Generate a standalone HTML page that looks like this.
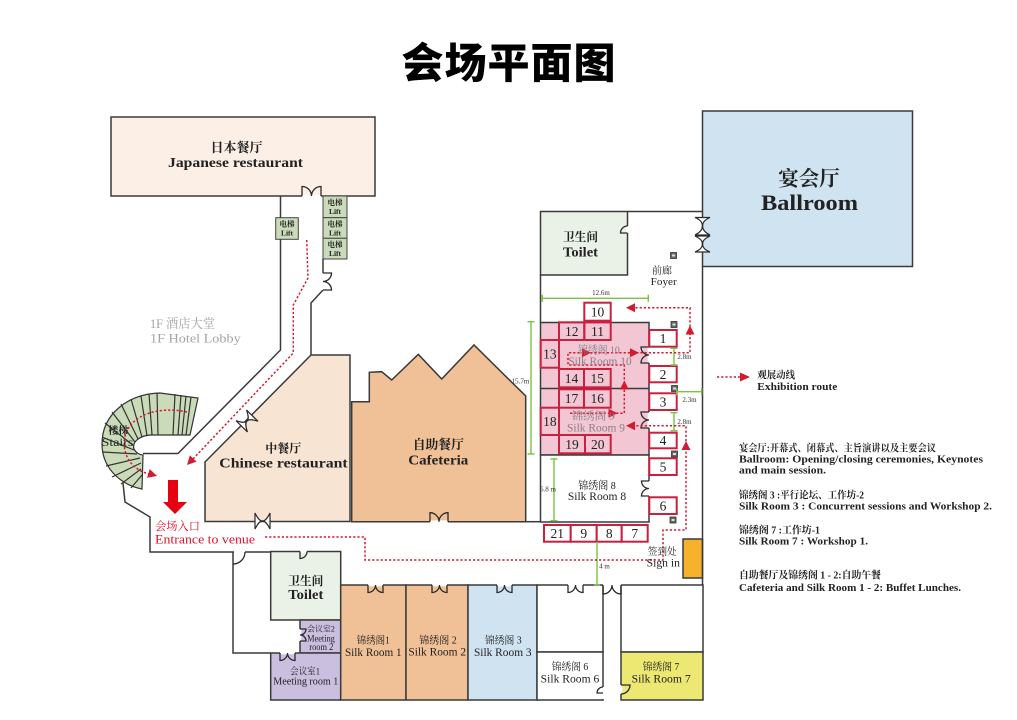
<!DOCTYPE html>
<html><head><meta charset="utf-8">
<style>
html,body{margin:0;padding:0;background:#fff;}
svg{display:block;}
</style></head><body>
<svg width="1017" height="720" viewBox="0 0 1017 720" xmlns="http://www.w3.org/2000/svg">
<rect width="1017" height="720" fill="#fff"/>
<text x="509" y="78" text-anchor="middle" font-family="'Noto Sans CJK SC','WenQuanYi Zen Hei',sans-serif" font-weight="900" font-size="42" letter-spacing="1">会场平面图</text>

<!-- rooms -->
<g stroke="#3a3a3a" stroke-width="1.5">
<rect x="111" y="117" width="264" height="79" fill="#fbefe6"/>
<rect x="702.5" y="111" width="210" height="155.5" fill="#cfe3f1"/>
<rect x="540.5" y="211.5" width="87" height="63.5" fill="#eaf2e7"/>
<rect x="540.5" y="322.5" width="108.5" height="132.5" fill="#f3c6d4"/>
<line x1="540.5" y1="388.5" x2="649" y2="388.5"/>
<rect x="540.5" y="455" width="108.5" height="67" fill="#fff"/>
<polygon points="351.7,401.7 369.3,401.7 369.3,372.3 381.7,371.7 391.7,380 418.3,354.3 441.7,379 474,345 525.7,396 525.7,521.7 351.7,521.7" fill="#f0c096"/>
<polygon points="311,355 350,355 350,521.5 205,521.5 205,462" fill="#f8e4d2"/>
<rect x="270.7" y="551.5" width="70" height="68.5" fill="#eaf2e7"/>
<rect x="300" y="620" width="40.7" height="33" fill="#cbbfe0"/>
<rect x="270.7" y="653" width="70" height="47" fill="#cbbfe0"/>
<rect x="340.7" y="585" width="65.3" height="115" fill="#f0c096"/>
<rect x="406" y="585" width="62" height="115" fill="#f0c096"/>
<rect x="468" y="585" width="69" height="115" fill="#cfe3f1"/>
<rect x="537" y="585" width="66" height="67" fill="#fff"/>
<rect x="537" y="652" width="66" height="48" fill="#fff"/>
<rect x="621" y="585" width="82" height="67" fill="#fff"/>
<rect x="621" y="652" width="82" height="48" fill="#ece872"/>
<rect x="683" y="539" width="19.5" height="39" fill="#f5b22a"/>
</g>

<!-- walls -->
<g fill="none" stroke="#3a3a3a" stroke-width="1.5">
<polyline points="280.5,196 280.5,350 178,453.5 143,453.5"/>
<line x1="323" y1="259" x2="323" y2="273"/>
<polyline points="323,290 311,303 311,355"/>
<polyline points="123,483 125,502 150,517 150,552 270.7,552"/>
<polyline points="233,552 233,653 270.7,653"/>
<line x1="540.5" y1="275" x2="540.5" y2="322.5"/>
<line x1="627.5" y1="211.5" x2="702.5" y2="211.5"/>
<line x1="702.5" y1="266.5" x2="702.5" y2="585"/>
<line x1="525.7" y1="521.7" x2="540.5" y2="521.7"/>
</g>

<!-- stairs -->
<g stroke="#333" stroke-width="1.2">
<path d="M142,489 C118,484 102,466 102,444 C102,414 128,394 160,393 L198,398 L190,435 L150,435 C138,436 132,443 134,449 C136,453 140,455 143,455 Z" fill="#c9dbb8"/>
<g fill="none">
<line x1="186" y1="435" x2="191" y2="397"/><line x1="182" y1="435" x2="186" y2="396"/>
<line x1="178" y1="435" x2="181" y2="395"/><line x1="173" y1="435" x2="175" y2="394"/>
<line x1="158" y1="435" x2="157" y2="393"/><line x1="152" y1="435" x2="149" y2="394"/>
<line x1="147" y1="436" x2="141" y2="396"/><line x1="142" y1="437" x2="131" y2="399"/>
<line x1="138" y1="439" x2="121" y2="404"/><line x1="135" y1="442" x2="112" y2="412"/>
<line x1="134" y1="446" x2="105" y2="423"/><line x1="134" y1="450" x2="102" y2="437"/>
<line x1="137" y1="454" x2="103" y2="452"/><line x1="140" y1="458" x2="106" y2="466"/>
<line x1="141" y1="463" x2="112" y2="477"/><line x1="141" y1="469" x2="121" y2="484"/>
<line x1="142" y1="475" x2="131" y2="488"/>
</g>
</g>

<!-- lifts -->
<g stroke="#444" stroke-width="1" fill="#c9dbb8">
<rect x="323" y="196" width="24" height="21.7"/>
<rect x="323" y="217.7" width="24" height="20.6"/>
<rect x="323" y="238.3" width="24" height="20.7"/>
<rect x="275.7" y="217.7" width="22.6" height="21.6"/>
</g>
<g font-family="'Liberation Serif','Noto Serif CJK SC',serif" font-size="7.5" fill="#222" text-anchor="middle" font-weight="bold">
<text x="335" y="205">电梯</text><text x="335" y="214">Lift</text>
<text x="335" y="226.5">电梯</text><text x="335" y="235.5">Lift</text>
<text x="335" y="247">电梯</text><text x="335" y="256">Lift</text>
<text x="287" y="226.5">电梯</text><text x="287" y="235.5">Lift</text>
</g>

<!-- door gaps -->
<g stroke="#fff" stroke-width="2.6">
<line x1="302" y1="196" x2="321" y2="196"/>
<line x1="323" y1="273" x2="323" y2="290"/>
<line x1="430" y1="521.7" x2="448" y2="521.7"/>
<line x1="649" y1="347" x2="649" y2="363"/>
<line x1="649" y1="412" x2="649" y2="428"/>
<line x1="649" y1="481" x2="649" y2="496"/>
<line x1="368" y1="585" x2="383" y2="585"/>
<line x1="432" y1="585" x2="447" y2="585"/>
<line x1="497" y1="585" x2="512" y2="585"/>
<line x1="568" y1="585" x2="583" y2="585"/>
<line x1="603" y1="585" x2="621" y2="585"/>
<line x1="280" y1="653" x2="295" y2="653"/>
<line x1="300" y1="629" x2="300" y2="641"/>
<line x1="234" y1="552" x2="245" y2="552"/>
<line x1="300" y1="551.5" x2="307" y2="551.5"/>
<line x1="627.5" y1="226" x2="627.5" y2="233"/>
<line x1="603" y1="687" x2="603" y2="699"/>
<line x1="621" y1="685" x2="621" y2="694"/>
</g>

<!-- doors -->
<g fill="none" stroke="#2a2a2a" stroke-width="1.3">
<path d="M302,196 V186.5 A9.5,9.5 0 0 1 311.5,196 M321,196 V186.5 A9.5,9.5 0 0 0 311.5,196"/>
<path d="M323,273 H331.5 A8.5,8.5 0 0 1 323,281.5 M323,290 H331.5 A8.5,8.5 0 0 0 323,281.5"/>
<path d="M430,521.7 V512.7 A9,9 0 0 1 439,521.7 M448,521.7 V512.7 A9,9 0 0 0 439,521.7"/>
<path d="M649,347 H641 A8,8 0 0 0 649,355 M649,363 H641 A8,8 0 0 1 649,355"/>
<path d="M649,412 H641 A8,8 0 0 0 649,420 M649,428 H641 A8,8 0 0 1 649,420"/>
<path d="M649,481 H641.5 A7.5,7.5 0 0 0 649,488.5 M649,496 H641.5 A7.5,7.5 0 0 1 649,488.5"/>
<path d="M368,585 V592.5 A7.5,7.5 0 0 0 375.5,585 M383,585 V592.5 A7.5,7.5 0 0 1 375.5,585"/>
<path d="M432,585 V592.5 A7.5,7.5 0 0 0 439.5,585 M447,585 V592.5 A7.5,7.5 0 0 1 439.5,585"/>
<path d="M497,585 V592.5 A7.5,7.5 0 0 0 504.5,585 M512,585 V592.5 A7.5,7.5 0 0 1 504.5,585"/>
<path d="M568,585 V592.5 A7.5,7.5 0 0 0 575.5,585 M583,585 V592.5 A7.5,7.5 0 0 1 575.5,585"/>
<path d="M603,585 V594 A9,9 0 0 0 612,585 M621,585 V594 A9,9 0 0 1 612,585"/>
<path d="M280,653 V660.5 A7.5,7.5 0 0 0 287.5,653 M295,653 V660.5 A7.5,7.5 0 0 1 287.5,653"/>
<path d="M300,629 H306 A6,6 0 0 1 300,635 M300,641 H306 A6,6 0 0 0 300,635"/>
<path d="M233,564 A12,12 0 0 0 245,552"/>
<path d="M300,551.5 V558.5 A7,7 0 0 0 307,551.5"/>
<path d="M627.5,233 H620.5 A7,7 0 0 1 627.5,226"/>
<path d="M603,687 A6,6 0 0 0 597,693 H603"/>
<path d="M621,685 H630 A9,9 0 0 1 621,694"/>
</g>
<g fill="#fff" stroke="#2a2a2a" stroke-width="1.2">
<path d="M695,217.5 H710 C704,220 702.5,223 702.5,226 C702.5,229 704,232 710,235 H695 C701,232 702.5,229 702.5,226 C702.5,223 701,220 695,217.5 Z"/>
<path d="M695,236 H710 C704,239 702.5,241 702.5,244 C702.5,247 704,249.5 710,252 H695 C701,249.5 702.5,247 702.5,244 C702.5,241 701,239 695,236 Z"/>
<path d="M255,513 V529 C258,523 260,521 262.5,521 C265,521 267,523 270,529 V513 C267,519 265,521 262.5,521 C260,521 258,519 255,513 Z"/>
<path transform="translate(247,421) rotate(-45.5)" d="M-7.5,-8 V8 C-4.5,2 -2.5,0 0,0 C2.5,0 4.5,2 7.5,8 V-8 C4.5,-2 2.5,0 0,0 C-2.5,0 -4.5,-2 -7.5,-8 Z"/>
</g>

<!-- red numbered boxes -->
<g stroke="#c8203e" stroke-width="2">
<rect x="584.3" y="302.7" width="26.4" height="18" fill="#fff"/>
<g fill="none">
<rect x="559" y="322.3" width="25.3" height="17.7"/><rect x="584.3" y="322.3" width="26.4" height="17.7"/>
<rect x="540.7" y="340" width="18.3" height="27.7"/>
<rect x="559" y="369" width="25" height="18.3"/><rect x="584" y="369" width="26.7" height="18.3"/>
<rect x="559" y="389.3" width="25" height="18.4"/><rect x="584" y="389.3" width="26.7" height="18.4"/>
<rect x="540.7" y="407.7" width="18.3" height="27.3"/>
<rect x="559" y="435" width="26" height="18.3"/><rect x="585" y="435" width="25.7" height="18.3"/>
</g>
<g fill="#fff">
<rect x="649.3" y="330" width="27.4" height="16.7"/><rect x="649.3" y="366" width="27.4" height="16.3"/>
<rect x="649.3" y="393.3" width="27.4" height="16.7"/><rect x="649.3" y="432.7" width="27.4" height="15.6"/>
<rect x="649.3" y="458.3" width="27.4" height="16.7"/><rect x="649.3" y="497.3" width="27.4" height="16.7"/>
<rect x="544" y="525" width="26.7" height="16.7"/><rect x="570.7" y="525" width="26" height="16.7"/>
<rect x="596.7" y="525" width="25" height="16.7"/><rect x="621.7" y="525" width="26" height="16.7"/>
</g>
</g>
<g font-family="'Liberation Serif',serif" font-size="13.5" fill="#222" text-anchor="middle">
<text x="597.5" y="316.5">10</text>
<text x="571.7" y="335.8">12</text><text x="597.5" y="335.8">11</text>
<text x="549.9" y="358.6">13</text>
<text x="571.5" y="382.8">14</text><text x="597.3" y="382.8">15</text>
<text x="571.5" y="403.2">17</text><text x="597.3" y="403.2">16</text>
<text x="549.9" y="426">18</text>
<text x="572" y="448.8">19</text><text x="597.8" y="448.8">20</text>
<text x="663" y="343">1</text><text x="663" y="378.8">2</text><text x="663" y="406.3">3</text>
<text x="663" y="445.2">4</text><text x="663" y="471.3">5</text><text x="663" y="510.3">6</text>
<text x="557.3" y="538">21</text><text x="583.7" y="538">9</text><text x="609.2" y="538">8</text><text x="634.7" y="538">7</text>
</g>

<!-- small square icons -->
<g stroke="#333" stroke-width="0.8" fill="#666">
<rect x="671" y="321.5" width="6" height="6"/><rect x="671.5" y="385.5" width="6" height="6"/>
<rect x="671.5" y="451" width="6" height="6"/><rect x="670" y="517" width="6" height="6"/>
<rect x="670.5" y="252.5" width="6" height="6"/>
</g>
<g fill="#ddd">
<rect x="672.5" y="323.5" width="3" height="2"/><rect x="673" y="387.5" width="3" height="2"/>
<rect x="673" y="453" width="3" height="2"/><rect x="671.5" y="519" width="3" height="2"/>
<rect x="672" y="254.5" width="3" height="2"/>
</g>

<!-- green dimensions -->
<g stroke="#7dc242" stroke-width="1.4" fill="none">
<path d="M542.3,298.3 H648.3 M542.3,294.8 V301.8 M648.3,294.8 V301.8"/>
<path d="M531,321.7 V454 M527.5,321.7 H534.5 M527.5,454 H534.5"/>
<path d="M674,348.3 V365 M670.5,348.3 H677.5 M670.5,365 H677.5"/>
<path d="M676.7,391.7 H701.7 M676.7,388.2 V395.2 M701.7,388.2 V395.2"/>
<path d="M674,412.7 V430.7 M670.5,412.7 H677.5 M670.5,430.7 H677.5"/>
<path d="M554,459 V520.7 M550.5,459 H557.5 M550.5,520.7 H557.5"/>
<path d="M597,541.7 V585 M594,585 H600"/>
</g>
<g font-family="'Liberation Serif',serif" font-size="7" fill="#333" text-anchor="middle">
<text x="601" y="295">12.6m</text>
<text x="520.5" y="383.5">15.7m</text>
<text x="684.5" y="359">2.8m</text>
<text x="689.5" y="402">2.3m</text>
<text x="684.5" y="424">2.8m</text>
<text x="548" y="491.5">6.8 m</text>
<text x="604.5" y="568.5">4 m</text>
</g>

<!-- route -->
<g fill="none" stroke="#d41a30" stroke-width="1.5" stroke-dasharray="2.2 2">
<polyline points="306.7,240 308,278 293.3,305 293.3,353 192,460"/>
<path d="M187,412 C160,406 131,414 125,436 C121,456 133,470 149,474"/>
<polyline points="265,537 365,537 365,560 663,560 663,530 686,530 686,425.7 632,425.7"/>
<polyline points="570,413.3 624.3,413.3 624.3,365 568,365 568,352.7 690,352.7 690,307.7 632,307.7"/>
<line x1="717" y1="377" x2="742" y2="377"/>
</g>
<g fill="#d41a30">
<polygon points="187,465 196.5,461.6 189.9,455.4"/>
<polygon points="157,476 147.1,477.7 149.7,469.1"/>
<polygon points="686,441 681.5,450 690.5,450"/>
<polygon points="626,425.7 635,421.2 635,430.2"/>
<polygon points="617.5,413.3 608.5,408.8 608.5,417.8"/>
<polygon points="624.3,380.5 619.8,389.5 628.8,389.5"/>
<polygon points="591,352.7 582,348.2 582,357.2"/>
<polygon points="639,352.7 630,348.2 630,357.2"/>
<polygon points="690,325.5 685.5,334.5 694.5,334.5"/>
<polygon points="626,307.7 635,303.2 635,312.2"/>
<polygon points="750,377 740,372.5 740,381.5"/>
</g>
<polygon points="168,480 178,480 178,502 187,502 175,514 163,502 168,502" fill="#e60012"/>

<!-- labels -->
<g font-family="'Liberation Serif','Noto Serif CJK SC',serif" fill="#222" text-anchor="middle">
<text x="236.5" y="152" font-size="13" font-weight="bold">日本餐厅</text>
<text x="235.5" y="167" font-size="14" font-weight="bold" textLength="135" lengthAdjust="spacingAndGlyphs">Japanese restaurant</text>
<text x="809" y="185.5" font-size="20.5" font-weight="bold">宴会厅</text>
<text x="809.5" y="210" font-size="22" font-weight="bold" textLength="97" lengthAdjust="spacingAndGlyphs">Ballroom</text>
<text x="580.5" y="241" font-size="11.7" font-weight="bold">卫生间</text>
<text x="580.5" y="256.5" font-size="14" font-weight="bold" textLength="35" lengthAdjust="spacingAndGlyphs">Toilet</text>
<text x="662" y="274" font-size="10">前廊</text>
<text x="663.7" y="285" font-size="11" textLength="26" lengthAdjust="spacingAndGlyphs">Foyer</text>
<text x="283.3" y="452.5" font-size="12" font-weight="bold">中餐厅</text>
<text x="283.5" y="467.3" font-size="14" font-weight="bold" textLength="128.4" lengthAdjust="spacingAndGlyphs">Chinese restaurant</text>
<text x="438.3" y="449" font-size="12.8" font-weight="bold">自助餐厅</text>
<text x="438.3" y="464.3" font-size="14" font-weight="bold" textLength="60" lengthAdjust="spacingAndGlyphs">Cafeteria</text>
<text x="118.3" y="434" font-size="10" font-weight="bold">楼梯</text>
<text x="117.5" y="446" font-size="12" textLength="31.7" lengthAdjust="spacingAndGlyphs">Stairs</text>
<text x="597" y="489" font-size="11" textLength="37.4" lengthAdjust="spacingAndGlyphs">锦绣阁 8</text>
<text x="597" y="500" font-size="12" textLength="58.3" lengthAdjust="spacingAndGlyphs">Silk Room 8</text>
<text x="373.3" y="643.3" font-size="10.5" textLength="33" lengthAdjust="spacingAndGlyphs">锦绣阁1</text>
<text x="373.3" y="656" font-size="11.5" textLength="56.7" lengthAdjust="spacingAndGlyphs">Silk Room 1</text>
<text x="438" y="643.3" font-size="10.5" textLength="37.4" lengthAdjust="spacingAndGlyphs">锦绣阁 2</text>
<text x="437.2" y="655.5" font-size="11.5" textLength="57.7" lengthAdjust="spacingAndGlyphs">Silk Room 2</text>
<text x="503.3" y="643.3" font-size="10.5" textLength="36.7" lengthAdjust="spacingAndGlyphs">锦绣阁 3</text>
<text x="502.8" y="656" font-size="11.5" textLength="57.7" lengthAdjust="spacingAndGlyphs">Silk Room 3</text>
<text x="305.8" y="585" font-size="11.7" font-weight="bold">卫生间</text>
<text x="305.8" y="599" font-size="14" font-weight="bold" textLength="35" lengthAdjust="spacingAndGlyphs">Toilet</text>
<text x="321" y="631.7" font-size="8" textLength="27.7" lengthAdjust="spacingAndGlyphs">会议室2</text>
<text x="321" y="641.7" font-size="9" textLength="27.7" lengthAdjust="spacingAndGlyphs">Meeting</text>
<text x="321.3" y="650" font-size="9" textLength="24" lengthAdjust="spacingAndGlyphs">room 2</text>
<text x="305" y="674.3" font-size="9.5" textLength="30" lengthAdjust="spacingAndGlyphs">会议室1</text>
<text x="305.8" y="684.3" font-size="10" textLength="65" lengthAdjust="spacingAndGlyphs">Meeting room 1</text>
<text x="570" y="670" font-size="10.5" textLength="36.6" lengthAdjust="spacingAndGlyphs">锦绣阁 6</text>
<text x="570" y="682.3" font-size="11.5" textLength="58.6" lengthAdjust="spacingAndGlyphs">Silk Room 6</text>
<text x="661" y="670" font-size="10.5" textLength="36.6" lengthAdjust="spacingAndGlyphs">锦绣阁 7</text>
<text x="661.2" y="682.3" font-size="11.5" textLength="59" lengthAdjust="spacingAndGlyphs">Silk Room 7</text>
<text x="662.2" y="555" font-size="10" textLength="29" lengthAdjust="spacingAndGlyphs">签到处</text>
<text x="663.3" y="566.7" font-size="12" textLength="33.3" lengthAdjust="spacingAndGlyphs">Sign in</text>
</g>
<g font-family="'Liberation Serif','Noto Serif CJK SC',serif" fill="#8a7f86" text-anchor="middle">
<text x="599" y="353.3" font-size="11" textLength="41.7" lengthAdjust="spacingAndGlyphs">锦绣阁 10</text>
<text x="600" y="365" font-size="12" textLength="63.3" lengthAdjust="spacingAndGlyphs">Silk Room 10</text>
<text x="593.3" y="419.3" font-size="11" textLength="43.3" lengthAdjust="spacingAndGlyphs">锦绣阁 9</text>
<text x="596" y="431.7" font-size="12" textLength="58" lengthAdjust="spacingAndGlyphs">Silk Room 9</text>
</g>
<g font-family="'Liberation Serif','Noto Serif CJK SC',serif" fill="#a3a3a3" font-size="13">
<text x="150" y="328" textLength="65" lengthAdjust="spacingAndGlyphs">1F 酒店大堂</text>
<text x="150" y="342.7" textLength="90.7" lengthAdjust="spacingAndGlyphs">1F Hotel Lobby</text>
</g>
<g font-family="'Liberation Serif','Noto Serif CJK SC',serif" fill="#e0102a">
<text x="155" y="530" font-size="11.5" textLength="45" lengthAdjust="spacingAndGlyphs">会场入口</text>
<text x="155" y="543.3" font-size="12.5" textLength="100" lengthAdjust="spacingAndGlyphs">Entrance to venue</text>
</g>

<!-- legend -->
<g font-family="'Liberation Serif','Noto Serif CJK SC',serif" fill="#222">
<text x="757.3" y="378.3" font-size="10" font-weight="bold" textLength="37.7" lengthAdjust="spacingAndGlyphs">观展动线</text>
<text x="757.3" y="390" font-size="11" font-weight="bold" textLength="80" lengthAdjust="spacingAndGlyphs">Exhibition route</text>
<text x="739" y="451.7" font-size="10" font-weight="bold" textLength="197" lengthAdjust="spacingAndGlyphs">宴会厅:开幕式、闭幕式、主旨演讲以及主要会议</text>
<text x="739" y="462.7" font-size="11" font-weight="bold" textLength="244" lengthAdjust="spacingAndGlyphs">Ballroom:  Opening/closing ceremonies, Keynotes</text>
<text x="739" y="473.3" font-size="11" font-weight="bold" textLength="87" lengthAdjust="spacingAndGlyphs">and main session.</text>
<text x="739" y="498.3" font-size="10" font-weight="bold" textLength="125" lengthAdjust="spacingAndGlyphs">锦绣阁 3 :平行论坛、工作坊-2</text>
<text x="739" y="509.3" font-size="11" font-weight="bold" textLength="253" lengthAdjust="spacingAndGlyphs">Silk Room 3 :  Concurrent sessions and Workshop 2.</text>
<text x="739" y="533.3" font-size="10" font-weight="bold" textLength="81" lengthAdjust="spacingAndGlyphs">锦绣阁 7 :工作坊-1</text>
<text x="739" y="544.3" font-size="11" font-weight="bold" textLength="129" lengthAdjust="spacingAndGlyphs">Silk Room 7 :  Workshop 1.</text>
<text x="739" y="578.3" font-size="10" font-weight="bold" textLength="142" lengthAdjust="spacingAndGlyphs">自助餐厅及锦绣阁 1 - 2:自助午餐</text>
<text x="739" y="591" font-size="11" font-weight="bold" textLength="222" lengthAdjust="spacingAndGlyphs">Cafeteria and Silk Room 1 - 2: Buffet Lunches.</text>
</g>
</svg>
</body></html>
